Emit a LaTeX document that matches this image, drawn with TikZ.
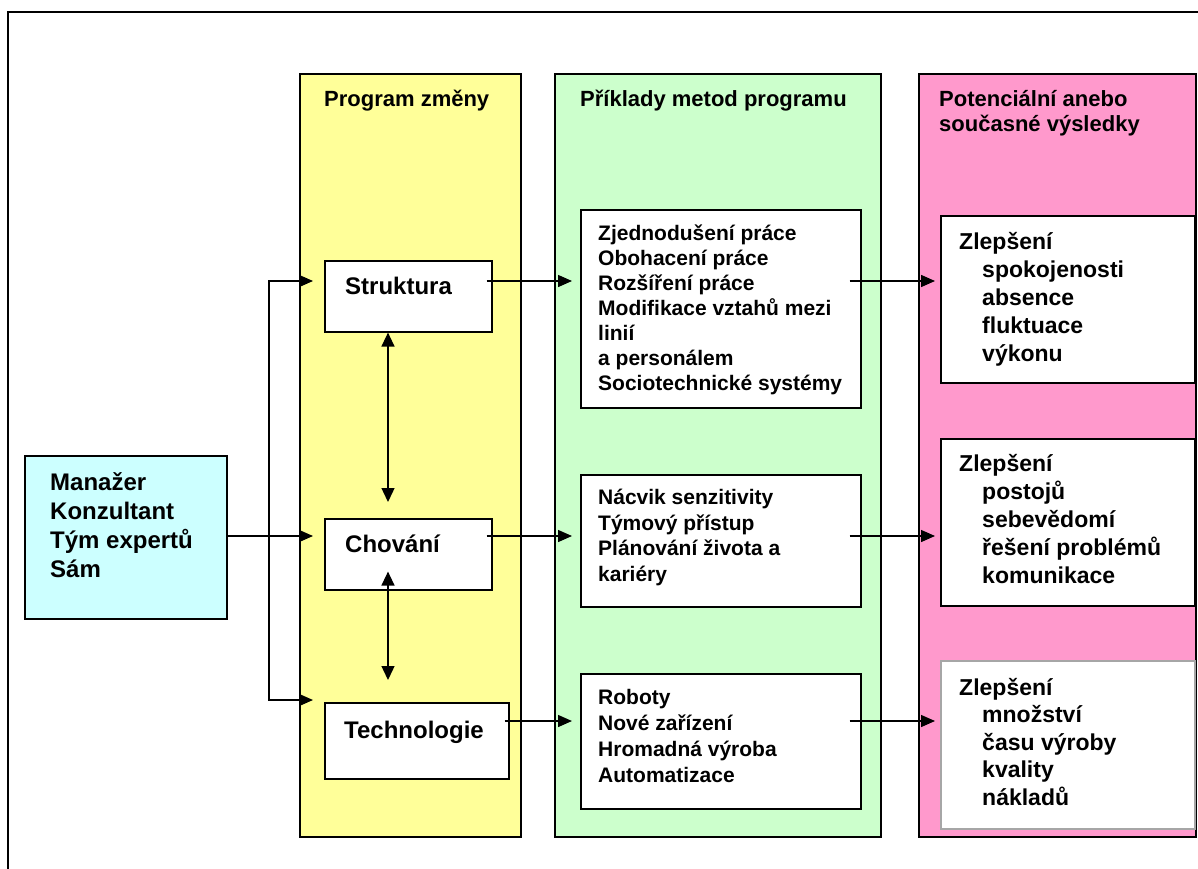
\documentclass[tikz,border=0pt]{standalone}
\usepackage{fontspec}
\setmainfont{Liberation Sans}
\usetikzlibrary{shapes,arrows.meta,positioning,calc}

\definecolor{zluta}{HTML}{FFFF99}
\definecolor{zelena}{HTML}{CCFFCC}
\definecolor{ruzova}{HTML}{FF99CC}
\definecolor{tyrkys}{HTML}{CCFFFF}

\begin{document}
\begin{tikzpicture}[x=1pt, y=-1pt,
    panel/.style={draw, line width=1.6pt, anchor=north west, inner sep=0pt},
    box/.style={draw, fill=white, line width=1.6pt, anchor=north west, inner sep=0pt},
    nadpis/.style={anchor=west, inner sep=0pt, text depth=0pt, text height=15.8pt,
        font=\bfseries\fontsize{22pt}{25pt}\selectfont},
    popis/.style={anchor=west, inner sep=0pt, text depth=0pt, text height=17.2pt,
        font=\bfseries\fontsize{24pt}{28pt}\selectfont},
    metoda/.style={anchor=west, inner sep=0pt, text depth=0pt, text height=15pt,
        font=\bfseries\fontsize{21pt}{25pt}\selectfont},
    vysl/.style={anchor=west, inner sep=0pt, text depth=0pt, text height=16.5pt,
        font=\bfseries\fontsize{23pt}{28pt}\selectfont},
    sipka/.style={-{Triangle[length=14pt,width=12pt]}, line width=1.4pt, shorten >=8pt},
    obousipka/.style={{Triangle[length=14pt,width=13pt]}-{Triangle[length=14pt,width=13pt]}, line width=1.4pt}]

\useasboundingbox (0,0) rectangle (1198,869);

% Outer frame
\draw[line width=1.4pt] (8,869) -- (8,12) -- (1198,12);

% Columns
\node[panel, fill=zluta, minimum width=221pt, minimum height=763pt] (program) at (299,73) {};
\node[panel, fill=zelena, minimum width=326pt, minimum height=763pt] (priklady) at (554,73) {};
\node[panel, fill=ruzova, minimum width=277pt, minimum height=763pt] (vysledky) at (918,73) {};

% Column titles
\node[nadpis] (tProgram) at (324,99) {Program změny};
\node[nadpis] (tPriklady) at (580,99) {Příklady metod programu};
\node[nadpis] (tVysl1) at (939,99) {Potenciální anebo};
\node[nadpis] (tVysl2) at (939,124) {současné výsledky};

% Who leads the change
\node[box, fill=tyrkys, minimum width=202pt, minimum height=163pt] (kdo) at (24,455) {};
\foreach \t [count=\i from 0] in {Manažer, Konzultant, Tým expertů, Sám}
    \node[popis] (kdo\i) at (50,482+29*\i) {\t};

% Program of change
\node[box, minimum width=167pt, minimum height=71pt] (struktura) at (324,260) {};
\node[popis] (tStruktura) at (345,286) {Struktura};
\node[box, minimum width=167pt, minimum height=71pt] (chovani) at (324,518) {};
\node[popis] (tChovani) at (345,544) {Chování};
\node[box, minimum width=184pt, minimum height=76pt] (technologie) at (324,702) {};
\node[popis] (tTechnologie) at (344,730) {Technologie};

% Methods
\node[box, minimum width=280pt, minimum height=198pt] (metodyA) at (580,209) {};
\foreach \t [count=\i from 0] in {Zjednodušení práce, Obohacení práce, Rozšíření práce,
        Modifikace vztahů mezi, linií, a personálem, Sociotechnické systémy}
    \node[metoda] (mA\i) at (598,233+25*\i) {\t};
\node[box, minimum width=280pt, minimum height=132pt] (metodyB) at (580,474) {};
\foreach \t [count=\i from 0] in {Nácvik senzitivity, Týmový přístup, Plánování života a, kariéry}
    \node[metoda] (mB\i) at (598,497+25.5*\i) {\t};
\node[box, minimum width=280pt, minimum height=135pt] (metodyC) at (580,673) {};
\foreach \t [count=\i from 0] in {Roboty, Nové zařízení, Hromadná výroba, Automatizace}
    \node[metoda] (mC\i) at (598,697+26*\i) {\t};

% Results
\node[box, minimum width=254pt, minimum height=167pt] (vysledekA) at (940,215) {};
\node[vysl] (vA) at (959,241) {Zlepšení};
\foreach \t [count=\i] in {spokojenosti, absence, fluktuace, výkonu}
    \node[vysl] (vA\i) at (982,241+28*\i) {\t};
\node[box, minimum width=254pt, minimum height=167pt] (vysledekB) at (940,438) {};
\node[vysl] (vB) at (959,463) {Zlepšení};
\foreach \t [count=\i] in {postojů, sebevědomí, řešení problémů, komunikace}
    \node[vysl] (vB\i) at (982,463+28*\i) {\t};
\node[box, draw=gray!70, minimum width=254pt, minimum height=168pt] (vysledekC) at (940,660) {};
\node[vysl] (vC) at (959,687) {Zlepšení};
\foreach \t [count=\i] in {množství, času výroby, kvality, nákladů}
    \node[vysl] (vC\i) at (982,687+27.5*\i) {\t};

% Arrow levels
\coordinate (rA) at (0,281);
\coordinate (rB) at (0,536);
\coordinate (rC) at (0,721);
\coordinate (rT) at (0,700);
\coordinate (uzel) at (269,536);
\coordinate (osa) at (388,0);

% Into the program
\draw[sipka, shorten >=11pt] (kdo.east |- rB) -- (chovani.west |- rB);
\draw[sipka, shorten >=11pt] (uzel) |- (struktura.west |- rA);
\draw[sipka, shorten >=11pt] (uzel) |- (technologie.west |- rT);

% Between the programs
\draw[obousipka, shorten >=16pt] (struktura.south -| osa) -- (chovani.north -| osa);
\draw[obousipka, shorten <=-19pt, shorten >=22pt] (chovani.south -| osa) -- (technologie.north -| osa);

% Program to methods
\draw[sipka, shorten <=-6pt] (struktura.east |- rA) -- (metodyA.west |- rA);
\draw[sipka, shorten <=-6pt] (chovani.east |- rB) -- (metodyB.west |- rB);
\draw[sipka, shorten <=-5pt] (technologie.east |- rC) -- (metodyC.west |- rC);

% Methods to results
\draw[sipka, shorten <=-12pt, shorten >=5pt] (metodyA.east |- rA) -- (vysledekA.west |- rA);
\draw[sipka, shorten <=-12pt, shorten >=5pt] (metodyB.east |- rB) -- (vysledekB.west |- rB);
\draw[sipka, shorten <=-12pt, shorten >=5pt] (metodyC.east |- rC) -- (vysledekC.west |- rC);

\end{tikzpicture}
\end{document}
